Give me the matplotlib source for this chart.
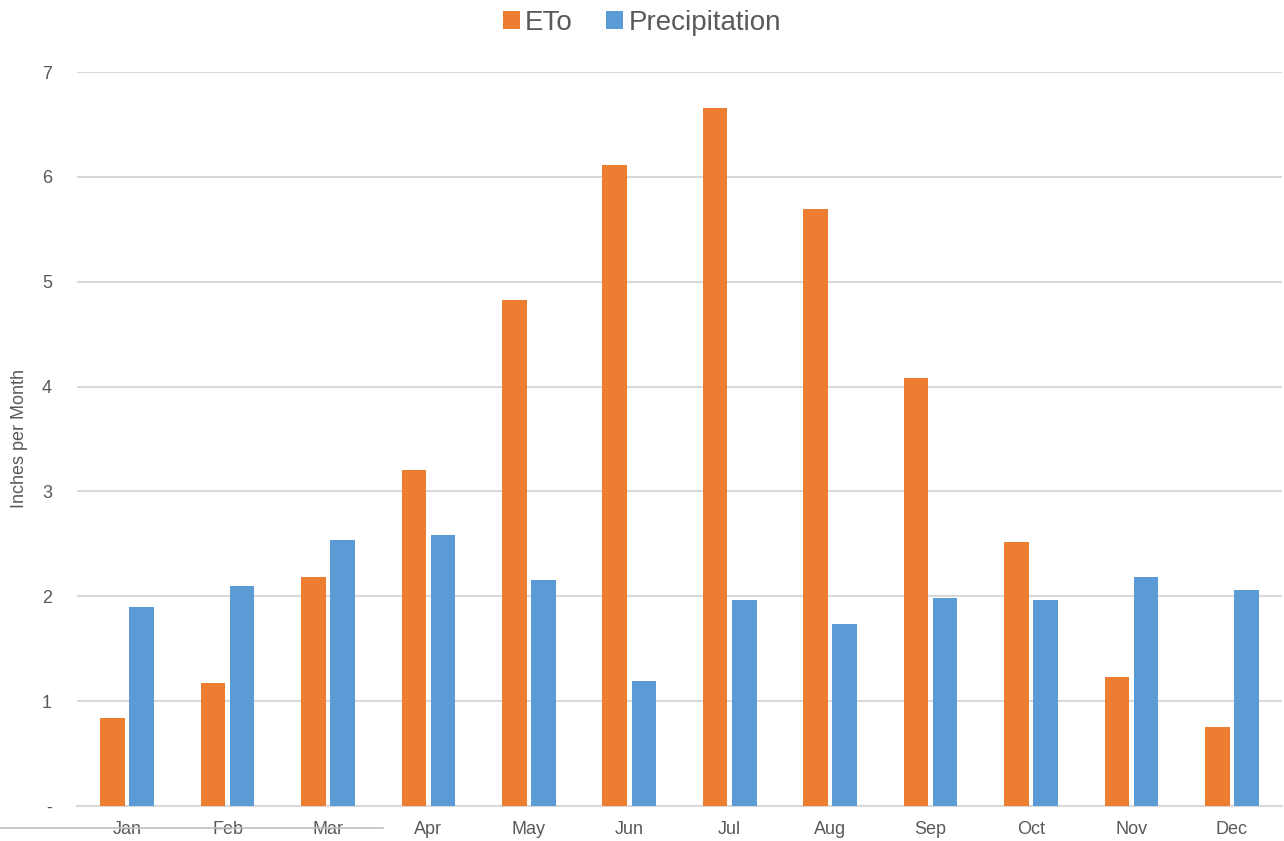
import numpy as np
import matplotlib
matplotlib.use("Agg")
import matplotlib.pyplot as plt
from matplotlib.lines import Line2D

plt.rcParams['font.family'] = ['Liberation Sans', 'DejaVu Sans']

# dados
months = ['Jan', 'Feb', 'Mar', 'Apr', 'May', 'Jun', 'Jul', 'Aug', 'Sep', 'Oct', 'Nov', 'Dec']
eto = [0.84, 1.17, 2.18, 3.20, 4.83, 6.11, 6.66, 5.69, 4.08, 2.52, 1.23, 0.75]
precip = [1.90, 2.10, 2.54, 2.58, 2.16, 1.19, 1.96, 1.74, 1.98, 1.96, 2.18, 2.06]
y_ticks = [0, 1, 2, 3, 4, 5, 6, 7]
y_labels = ['-', '1', '2', '3', '4', '5', '6', '7']

TXT = '#595959'
ORANGE = '#ED7D31'
BLUE = '#5B9BD5'

fig = plt.figure(figsize=(12.84, 8.41), dpi=100)
ax = fig.add_axes([77 / 1284, 1 - 806 / 841, 1205 / 1284, (806 - 72) / 841])

x = np.arange(len(months))
w = 0.245
off = 0.145
ax.bar(x - off, eto, w, color=ORANGE, label='ETo', zorder=3)
ax.bar(x + off, precip, w, color=BLUE, label='Precipitation', zorder=3)

ax.set_xlim(-0.5, len(months) - 0.5)
ax.set_ylim(0, 7)
ax.set_yticks(y_ticks)
ax.set_yticklabels(y_labels)
ax.set_xticks(x)
ax.set_xticklabels(months)
ax.grid(axis='y', color='#D9D9D9', linewidth=1.5, zorder=0)
ax.tick_params(length=0, colors=TXT, labelsize=13)
ax.tick_params(axis='y', pad=18)
ax.tick_params(axis='x', pad=11)
for s in ['top', 'right', 'left']:
    ax.spines[s].set_visible(False)
ax.spines['bottom'].set_color('#D9D9D9')
ax.spines['bottom'].set_linewidth(1.5)

ax.set_ylabel('Inches per Month', color=TXT, fontsize=13)
ax.yaxis.set_label_coords(-49 / 1205, 0.5)

fig.legend(loc='upper center', bbox_to_anchor=(0.5, 1.018), ncol=2, frameon=False,
           fontsize=20, labelcolor=TXT, handlelength=0.6, handleheight=0.6,
           handletextpad=0.2, columnspacing=1.2)

# linha solta embaixo
fig.add_artist(Line2D([0, 383 / 1284], [1 - 828 / 841, 1 - 828 / 841],
                      color='#BFBFBF', linewidth=1.2))

fig.savefig('out.png', dpi=100)
